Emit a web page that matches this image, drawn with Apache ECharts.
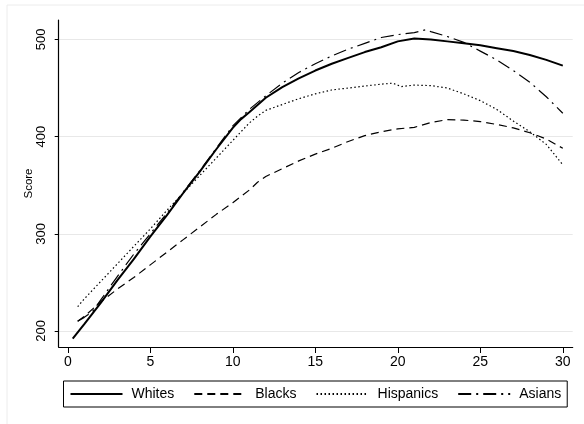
<!DOCTYPE html>
<html>
<head>
<meta charset="utf-8">
<script src="https://cdn.jsdelivr.net/npm/echarts@6/dist/echarts.min.js"></script>
<style>
	html, body { margin: 0; padding: 0; background: #fff; }
	#chart { width: 584px; height: 424px; }
</style>
</head>
<body>
<div id="chart"></div>
<script>
// Data
const seriesNames = ['Whites', 'Blacks', 'Hispanics', 'Asians'];

const xWhites = [0.3, 1, 2, 3, 4, 5, 6, 7, 8, 9, 10, 10.5, 11, 12, 13, 14, 15, 16, 17, 18, 19, 20, 21, 22, 23, 24, 25, 26, 27, 28, 29, 30];
const yWhites = [192, 207, 229, 252, 274, 297, 319, 342, 364, 387, 409, 418, 425, 440, 451, 460, 468, 475, 481, 487, 492, 498, 501, 500, 498, 496, 494, 491, 488, 484, 479, 473];

const xBlacks = [0.6, 1, 2, 3, 4, 5, 6, 7, 8, 9, 10, 11, 11.5, 12, 13, 14, 15, 16, 17, 18, 19, 20, 21, 22, 23, 24, 25, 26, 27, 28, 29, 30];
const yBlacks = [210, 215, 230, 243, 255, 268, 281, 294, 307, 320, 332, 345, 353, 359, 367, 375, 382, 388, 395, 401, 405, 408, 409.5, 414.5, 417.5, 417, 415.5, 412.5, 409, 404, 397.5, 388];

const xHispanics = [0.6, 1, 2, 3, 4, 5, 6, 7, 8, 9, 10, 10.5, 11, 11.5, 12, 13, 14, 15, 16, 17, 18, 19, 19.7, 20.2, 21, 22, 23, 24, 25, 26, 27, 28, 29, 30];
const yHispanics = [225, 233, 251, 269, 287, 305, 324, 342, 360, 378, 396, 405, 414, 421, 427, 433, 439, 444, 448, 450, 452, 454, 455, 451.5, 453, 452.5, 450, 444, 437, 428, 416, 405, 392, 371];

const xAsians = [0.6, 1, 1.5, 2, 3, 4, 5, 6, 7, 8, 9, 10, 11, 12, 13, 14, 15, 16, 17, 18, 19, 20, 21, 21.7, 22, 23, 24, 25, 26, 27, 28, 29, 30];
const yAsians = [210, 214, 220, 232, 256, 279, 300, 321, 343, 365, 388, 411, 428, 442, 455, 466, 475, 483, 490, 496, 502, 505, 507, 510, 508, 503, 497, 488, 479, 468, 456, 441, 424];

const xTicks = [0, 5, 10, 15, 20, 25, 30];
const yTicks = [200, 300, 400, 500];

const font = 'Liberation Sans, Arial, sans-serif';

function pairs (xs, ys) {
	let out = [];
	for (let i = 0; i < xs.length; i++) {
		out.push([xs[i], ys[i]]);
	};
	return out;
};

function makeSeries (name, xs, ys, width, dash) {
	return {
		name: name,
		type: 'line',
		data: pairs(xs, ys),
		symbol: 'none',
		smooth: false,
		lineStyle: { color: '#000', width: width, type: dash },
		itemStyle: { color: '#000' },
		emphasis: { disabled: true }
	};
};

let myChart = echarts.init(document.getElementById('chart'), null, { renderer: 'canvas' });

myChart.setOption({
	animation: false,
	backgroundColor: '#fff',
	textStyle: { fontFamily: font },
	graphic: [{
		type: 'rect',
		shape: { x: 7, y: 5, width: 620, height: 440 },
		style: { fill: null, stroke: '#ececec', lineWidth: 1 },
		silent: true,
		z: -1
	}],
	grid: { left: 58.7, right: 11.3, top: 20, bottom: 77 },
	legend: {
		data: seriesNames,
		left: 63.5,
		top: 381,
		orient: 'horizontal',
		itemWidth: 52,
		itemHeight: 14,
		itemGap: 19,
		padding: [6, 6, 6, 6],
		borderColor: '#000',
		borderWidth: 1,
		borderRadius: 0,
		// only the line sample, no symbol on it
		itemStyle: { color: 'rgba(0,0,0,0)', borderWidth: 0, opacity: 0 },
		textStyle: { fontFamily: font, fontSize: 14, color: '#000', padding: [0, 0, 0, 4] }
	},
	xAxis: {
		type: 'value',
		min: -0.55,
		max: 30.6,
		axisLine: { onZero: false, lineStyle: { color: '#000', width: 1.2 } },
		axisTick: { length: 6, customValues: xTicks, lineStyle: { color: '#000' } },
		axisLabel: { customValues: xTicks, margin: 8, fontFamily: font, fontSize: 14, color: '#000' },
		splitLine: { show: false }
	},
	yAxis: {
		type: 'value',
		min: 183.5,
		max: 520,
		name: 'Score',
		nameLocation: 'middle',
		nameGap: 24,
		nameMoveOverlap: false,
		nameTextStyle: { fontFamily: font, fontSize: 11.5, color: '#000' },
		axisLine: { show: true, onZero: false, lineStyle: { color: '#000', width: 1.2 } },
		axisTick: { show: true, length: 4, customValues: yTicks, lineStyle: { color: '#000' } },
		axisLabel: { customValues: yTicks, rotate: 90, margin: 11, fontFamily: font, fontSize: 13, color: '#000' },
		splitLine: { show: true, lineStyle: { color: '#e8e8e8', width: 1.2 } }
	},
	series: [
		makeSeries('Whites', xWhites, yWhites, 2, 'solid'),
		makeSeries('Blacks', xBlacks, yBlacks, 1.2, [8, 5]),
		makeSeries('Hispanics', xHispanics, yHispanics, 1.2, [1.5, 2.5]),
		makeSeries('Asians', xAsians, yAsians, 1.2, [13, 5, 2, 5])
	]
});
</script>
</body>
</html>
